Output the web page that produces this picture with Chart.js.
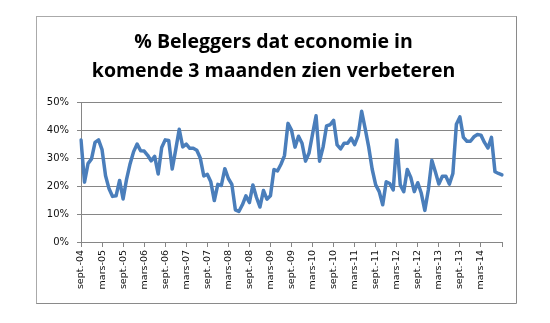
<!DOCTYPE html>
<html>
<head>
<meta charset="utf-8">
<script src="https://cdn.jsdelivr.net/npm/chart.js@4/dist/chart.umd.min.js"></script>
<style>
html,body{margin:0;padding:0;background:#fff;}
#wrap{position:relative;width:550px;height:323px;}
</style>
</head>
<body>
<div id="wrap"><canvas id="c" width="550" height="323"></canvas></div>
<script>
const titleLines = ["% Beleggers dat economie in", "komende 3 maanden zien verbeteren"];
const startYear = 2004;
const startMonth = 8; // september (0-based)
const monthNames = ["jan.","feb.","mars","apr.","mai","juni","juli","aug.","sept.","okt.","nov.","dec."];
const values = [
  36.5, 21.4, 28.0, 29.7, 35.6, 36.5, 33.0, 23.7, 19.0, 16.3,
  16.5, 22.0, 15.4, 22.5, 28.0, 32.3, 35.0, 32.6, 32.5, 31.0,
  29.0, 30.6, 24.3, 33.8, 36.5, 36.3, 26.1, 33.0, 40.3, 34.0,
  35.0, 33.5, 33.5, 32.8, 30.0, 23.6, 24.2, 21.5, 14.8, 20.6,
  20.2, 26.2, 22.7, 20.6, 11.5, 10.9, 13.3, 16.5, 14.1, 20.4,
  16.0, 12.5, 18.4, 15.3, 16.5, 25.9, 25.4, 27.8, 30.9, 42.4,
  40.0, 33.9, 37.8, 35.3, 28.9, 31.8, 38.6, 45.1, 28.9, 33.9,
  41.5, 41.9, 43.5, 34.7, 33.3, 35.3, 35.3, 37.1, 34.8, 38.0,
  46.7, 40.5, 34.0, 26.0, 20.4, 18.0, 13.3, 21.5, 20.9, 18.6,
  36.5, 20.4, 18.0, 25.9, 23.1, 18.0, 21.2, 17.4, 11.3, 18.6,
  29.2, 25.1, 20.7, 23.5, 23.5, 20.7, 24.5, 42.1, 44.7, 37.4,
  36.0, 36.0, 37.6, 38.4, 38.2, 35.6, 33.6, 37.4, 25.1, 24.5,
  24.0
];
const labels = values.map((v, i) => {
  const m = (startMonth + i) % 12;
  const y = startYear + Math.floor((startMonth + i) / 12);
  return monthNames[m] + "-" + String(y % 100).padStart(2, "0");
});
const yTicks = [0, 10, 20, 30, 40, 50];
const labelEvery = 6;

const frame = {
  id: 'frame',
  beforeDraw(chart) {
    const ctx = chart.ctx;
    ctx.save();
    ctx.fillStyle = '#fff';
    ctx.fillRect(0, 0, chart.width, chart.height);
    ctx.lineWidth = 1;
    ctx.strokeStyle = '#555';
    ctx.setLineDash([1, 1]);
    ctx.beginPath();
    ctx.moveTo(36.5, 303.5); ctx.lineTo(36.5, 16.5); ctx.lineTo(516.5, 16.5);
    ctx.stroke();
    ctx.setLineDash([]);
    ctx.strokeStyle = '#8a8a8a';
    ctx.beginPath();
    ctx.moveTo(516.5, 16.5); ctx.lineTo(516.5, 303.5); ctx.lineTo(36.5, 303.5);
    ctx.stroke();
    ctx.restore();
  }
};

new Chart(document.getElementById('c'), {
  type: 'line',
  data: {
    labels: labels,
    datasets: [{
      data: values,
      borderColor: '#4A7EBB',
      borderWidth: 3.5,
      pointRadius: 0,
      tension: 0,
      borderJoinStyle: 'round',
      borderCapStyle: 'round',
      fill: false
    }]
  },
  options: {
    responsive: false,
    animation: false,
    devicePixelRatio: 1,
    layout: { padding: { left: 45, right: 48, top: 0, bottom: 20 } },
    plugins: {
      legend: { display: false },
      tooltip: { enabled: false },
      title: {
        display: true,
        text: titleLines,
        color: '#000',
        font: { family: 'Open Sans', size: 19.5, weight: 'bold', lineHeight: 1.49 },
        padding: { top: 28, bottom: 16 }
      }
    },
    scales: {
      x: {
        type: 'category',
        offset: false,
        afterFit(s) { s.height = 61; },
        border: { display: true, color: '#868686', width: 1 },
        grid: {
          drawOnChartArea: false,
          drawTicks: true,
          tickLength: 5,
          tickColor: (c) => (c.index % labelEvery === 0 ? '#868686' : 'rgba(0,0,0,0)')
        },
        ticks: {
          autoSkip: false,
          minRotation: 90,
          maxRotation: 90,
          padding: 3,
          color: '#111',
          font: { family: 'DejaVu Sans', size: 9.5 },
          callback: (v, i) => (i % labelEvery === 0 && i < values.length - 1 ? labels[i] : '')
        }
      },
      y: {
        min: 0,
        max: 50,
        afterFit(s) { s.width = 36; },
        afterBuildTicks(s) { s.ticks = yTicks.map(v => ({ value: v })); },
        border: { display: true, color: '#868686', width: 1 },
        grid: { color: '#868686', lineWidth: 1, tickLength: 4 },
        ticks: {
          padding: 8,
          color: '#111',
          font: { family: 'DejaVu Sans', size: 10 },
          callback: (v) => v + '%'
        }
      }
    }
  },
  plugins: [frame]
});
</script>
</body>
</html>
